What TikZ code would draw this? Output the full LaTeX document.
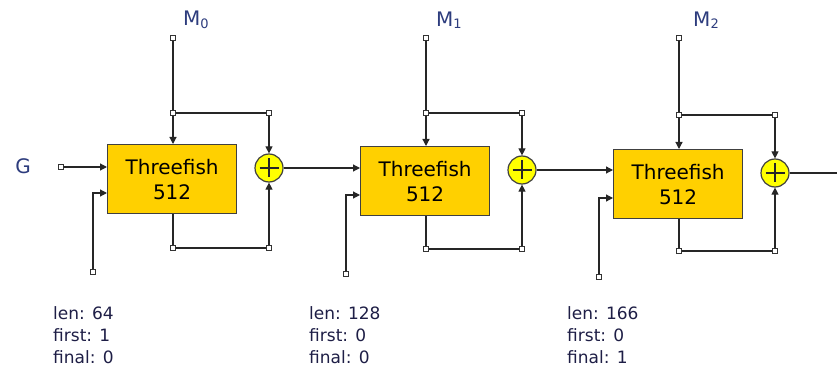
\documentclass[tikz,border=0pt]{standalone}
\usepackage{fontspec}
\setmainfont{DejaVu Sans}
\usetikzlibrary{arrows.meta}
\definecolor{boxfill}{RGB}{255,208,0}
\definecolor{xoryellow}{RGB}{255,255,0}
\definecolor{labblue}{RGB}{45,60,125}
\definecolor{infotext}{RGB}{30,30,70}
\begin{document}
\begin{tikzpicture}[x=1pt,y=-1pt,
  wire/.style={line width=1.2pt, draw=black!85},
  arr/.style={wire,-{Triangle[length=7pt,width=7pt]}},
  term/.style={rectangle,draw=black!80,fill=white,line width=0.8pt,inner sep=0pt,minimum size=4.5pt},
  tfbox/.style={rectangle,draw=black!75,line width=1.2pt,fill=boxfill,minimum width=129pt,minimum height=69pt,anchor=north west,align=center,font=\fontsize{20}{25}\selectfont,inner sep=0pt},
  xorc/.style={circle,draw=black!75,fill=xoryellow,line width=1.2pt,minimum size=28pt,inner sep=0pt},
  lab/.style={font=\fontsize{20}{24}\selectfont,text=labblue,inner sep=0pt},
  info/.style={font=\fontsize{17}{22}\selectfont,text=infotext,align=left,anchor=north west,inner sep=0pt}]
\useasboundingbox (0,0) rectangle (837,374);

\foreach \i/\L/\T/\J/\B/\lx/\mx/\lenv/\firstv/\finalv in
  {0/107/144/113/248/53/196/64/1/0, 1/360/146/113/249/309/449/128/0/0, 2/613/149/115/251/567/706/166/0/1} {
  \node[tfbox] (box\i) at (\L,\T) {Threefish\\512};
  \node[xorc] (xor\i) at (\L+162,\T+24) {};
  \draw[wire] (\L+152.5,\T+24) -- (\L+171.5,\T+24);
  \draw[wire] (\L+162,\T+14.5) -- (\L+162,\T+33.5);
  \node[term] (mt\i) at (\L+66,38) {};
  \node[term] (jn\i) at (\L+66,\J) {};
  \node[term] (jr\i) at (\L+162,\J) {};
  \node[term] (bl\i) at (\L+66,\B) {};
  \node[term] (br\i) at (\L+162,\B) {};
  \node[term] (kt\i) at (\L-14,\T+128) {};
  \coordinate (kin\i) at (\L,\T+49);
  \draw[wire] (mt\i) -- (jn\i);
  \draw[arr] (jn\i) -- (jn\i |- box\i.north);
  \draw[wire] (jn\i) -- (jr\i);
  \draw[arr] (jr\i) -- (xor\i);
  \draw[wire] (bl\i |- box\i.south) -- (bl\i);
  \draw[wire] (bl\i) -- (br\i);
  \draw[arr] (br\i) -- (xor\i);
  \draw[arr] (kt\i) |- (kin\i);
  \node[lab] (ml\i) at (\mx,20) {M{\fontsize{13}{13}\selectfont\raisebox{-2.5pt}{\i}}};
  \node[info] (info\i) at (\lx,306) {len: \lenv\\first: \firstv\\final: \finalv};
}

\node[term] (gt) at (61,167) {};
\node[lab] (G) at (23,166) {G};
\draw[arr] (gt) -- (gt -| box0.west);
\draw[arr] (xor0.east) -- (xor0.east -| box1.west);
\draw[arr] (xor1.east) -- (xor1.east -| box2.west);
\coordinate (out) at (837,173);
\draw[wire] (xor2.east) -- (xor2.east -| out);
\end{tikzpicture}
\end{document}
